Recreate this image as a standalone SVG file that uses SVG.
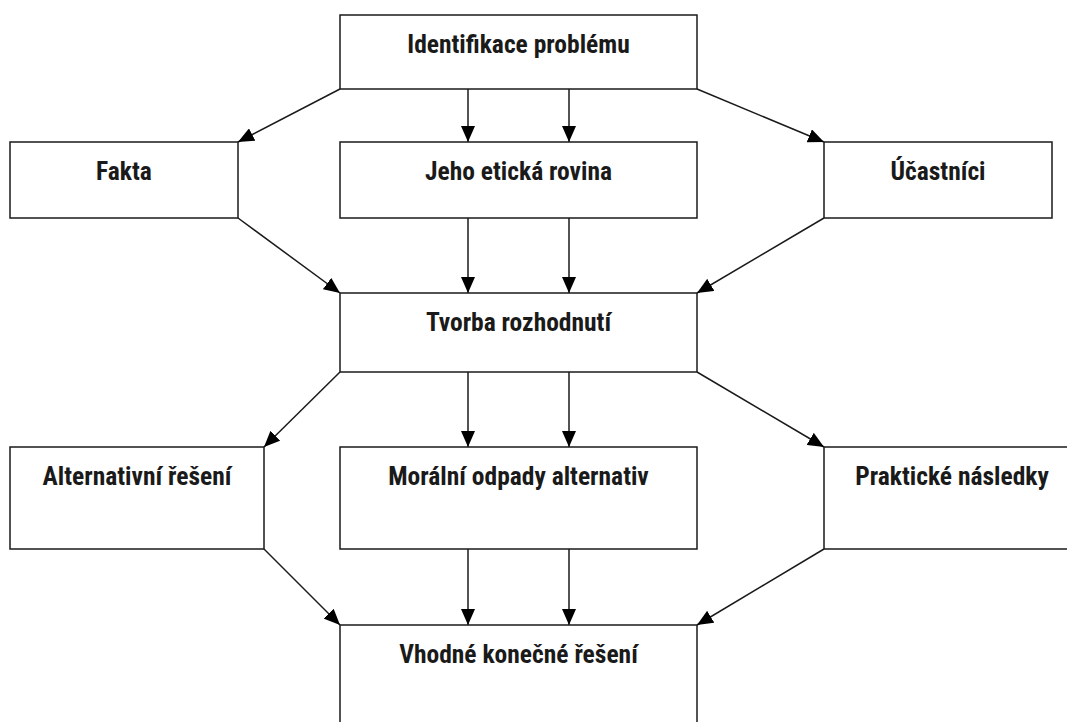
<svg xmlns="http://www.w3.org/2000/svg" width="1067" height="722" viewBox="0 0 1067 722">
<style>
.box{fill:#fff;stroke:#1a1a1a;stroke-width:1.5}
.lbl{font-family:"Liberation Sans Narrow","Roboto Condensed","DejaVu Sans Condensed",sans-serif;font-weight:bold;font-size:25.5px;fill:#1a1a1a;text-anchor:middle}
.edge{stroke:#1a1a1a;stroke-width:1.5;fill:none;marker-end:url(#arr)}
</style>
<defs>
<marker id="arr" markerUnits="userSpaceOnUse" markerWidth="16" markerHeight="14" viewBox="0 0 16 14" refX="16" refY="7" orient="auto">
<path d="M0,0 L16,7 L0,14 Z" fill="#000"/>
</marker>
</defs>
<rect width="1067" height="722" fill="#fff"/>
<g id="connectors">
<path class="edge" d="M340,89 L238,142"/>
<path class="edge" d="M468,89 L468,142"/>
<path class="edge" d="M569,89 L569,142"/>
<path class="edge" d="M697,89 L824,142"/>
<path class="edge" d="M238,218 L340,293"/>
<path class="edge" d="M468,218 L468,293"/>
<path class="edge" d="M569,218 L569,293"/>
<path class="edge" d="M824,218 L697,293"/>
<path class="edge" d="M340,372 L264,447"/>
<path class="edge" d="M468,372 L468,447"/>
<path class="edge" d="M569,372 L569,447"/>
<path class="edge" d="M697,372 L824,447"/>
<path class="edge" d="M264,549 L340,625"/>
<path class="edge" d="M468,549 L468,625"/>
<path class="edge" d="M569,549 L569,625"/>
<path class="edge" d="M824,549 L697,625"/>
</g>
<g id="n1"><rect class="box" x="340" y="15" width="357" height="74"/><text class="lbl" x="518.5" y="53">Identifikace problému</text></g>
<g id="n2"><rect class="box" x="10" y="142" width="228" height="76"/><text class="lbl" x="124" y="180">Fakta</text></g>
<g id="n3"><rect class="box" x="340" y="142" width="357" height="76"/><text class="lbl" x="518.5" y="180">Jeho etická rovina</text></g>
<g id="n4"><rect class="box" x="824" y="142" width="228" height="76"/><text class="lbl" x="938" y="180">Účastníci</text></g>
<g id="n5"><rect class="box" x="340" y="293" width="357" height="79"/><text class="lbl" x="518.5" y="331">Tvorba rozhodnutí</text></g>
<g id="n6"><rect class="box" x="10" y="447" width="254" height="102"/><text class="lbl" x="137" y="485">Alternativní řešení</text></g>
<g id="n7"><rect class="box" x="340" y="447" width="357" height="102"/><text class="lbl" x="518.5" y="485">Morální odpady alternativ</text></g>
<g id="n8"><rect class="box" x="824" y="447" width="256" height="102"/><text class="lbl" x="952" y="485">Praktické následky</text></g>
<g id="n9"><rect class="box" x="340" y="625" width="357" height="110"/><text class="lbl" x="518.5" y="663">Vhodné konečné řešení</text></g>
</svg>
